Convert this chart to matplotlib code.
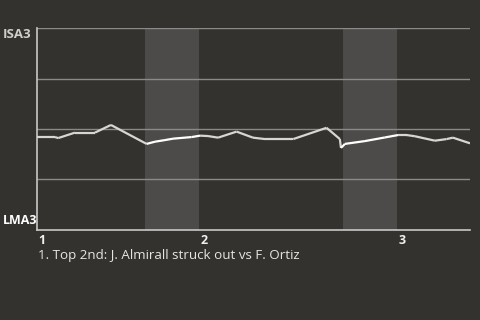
import matplotlib
matplotlib.use("Agg")
import matplotlib.pyplot as plt

# ---- data ----
# x in plate-appearance units from the start of the game, y = win probability (top = ISA3)
px = [0.0, 1.0, 1.18, 2.11, 3.22, 4.11, 6.09, 6.56, 7.11, 7.56, 8.59, 9.06, 9.5, 10.06,
      11.09, 12.0, 12.67, 14.24, 16.09, 16.83, 16.89, 17.11, 18.22, 19.33, 20.06, 20.54,
      21.0, 22.11, 22.76, 23.11, 24.06]
wp = [0.460, 0.460, 0.455, 0.482, 0.482, 0.520, 0.426, 0.437, 0.445, 0.452, 0.460, 0.467,
      0.465, 0.457, 0.487, 0.457, 0.450, 0.450, 0.506, 0.450, 0.406, 0.426, 0.440, 0.458,
      0.470, 0.470, 0.464, 0.442, 0.450, 0.457, 0.429]
# half-inning boundaries (bottom halves shaded)
bottom_halves = [(6.0, 9.0), (17.0, 20.0)]
inning_starts = [0.0, 9.0, 20.0]
inning_labels = ["1", "2", "3"]
team_top = "ISA3"
team_bottom = "LMA3"
caption = "1. Top 2nd: J. Almirall struck out vs F. Ortiz"

BG = "#34322f"
BAND = "#4d4b49"
GRID = "#8a8a88"
AXIS = "#c8c8c6"

plt.rcParams['font.family'] = ['Open Sans', 'DejaVu Sans']
fig = plt.figure(figsize=(4.8, 3.2), dpi=100, facecolor=BG)
W, H = 480, 320
ax = fig.add_axes([37 / W, 1 - 229.7 / H, 433 / W, (229.7 - 28.3) / H])
ax.set_facecolor(BG)
ax.set_xlim(0, 24.06)
ax.set_ylim(0, 1)

for a, b in bottom_halves:
    ax.axvspan(a, b, color=BAND, lw=0, zorder=0)
for g in [0.25, 0.5, 0.75, 1.0]:
    ax.axhline(g, color=GRID, lw=1, zorder=1)

# line: top-half segments light grey, bottom-half segments white
def in_bottom(x):
    return any(a <= x <= b for a, b in bottom_halves)

for i in range(len(px) - 1):
    xm = (px[i] + px[i + 1]) / 2
    c = "#ffffff" if in_bottom(xm) else "#d6d6d4"
    ax.plot(px[i:i + 2], wp[i:i + 2], color=c, lw=1.6, solid_capstyle='butt', zorder=3)

for s in ['top', 'right']:
    ax.spines[s].set_visible(False)
for s in ['left', 'bottom']:
    ax.spines[s].set_color(AXIS)
    ax.spines[s].set_linewidth(1.2)
ax.set_xticks([])
ax.set_yticks([])

for x0, lab in zip(inning_starts, inning_labels):
    ax.text(x0 + 0.08, -0.02, lab, transform=ax.transData, ha='left', va='top',
            color="#f0f0f0", fontsize=9, fontweight='bold')

fig.text(3 / W, 1 - 35 / H, team_top, ha='left', va='center', color="#cfcfcd",
         fontsize=9.5, fontweight='bold')
fig.text(3 / W, 1 - 220 / H, team_bottom, ha='left', va='center', color="#ffffff",
         fontsize=9, fontweight='bold')
fig.text(38 / W, 1 - 255 / H, caption, ha='left', va='center', color="#e6e6e4",
         fontsize=9.6)

fig.savefig("out.png", dpi=100, facecolor=BG)
